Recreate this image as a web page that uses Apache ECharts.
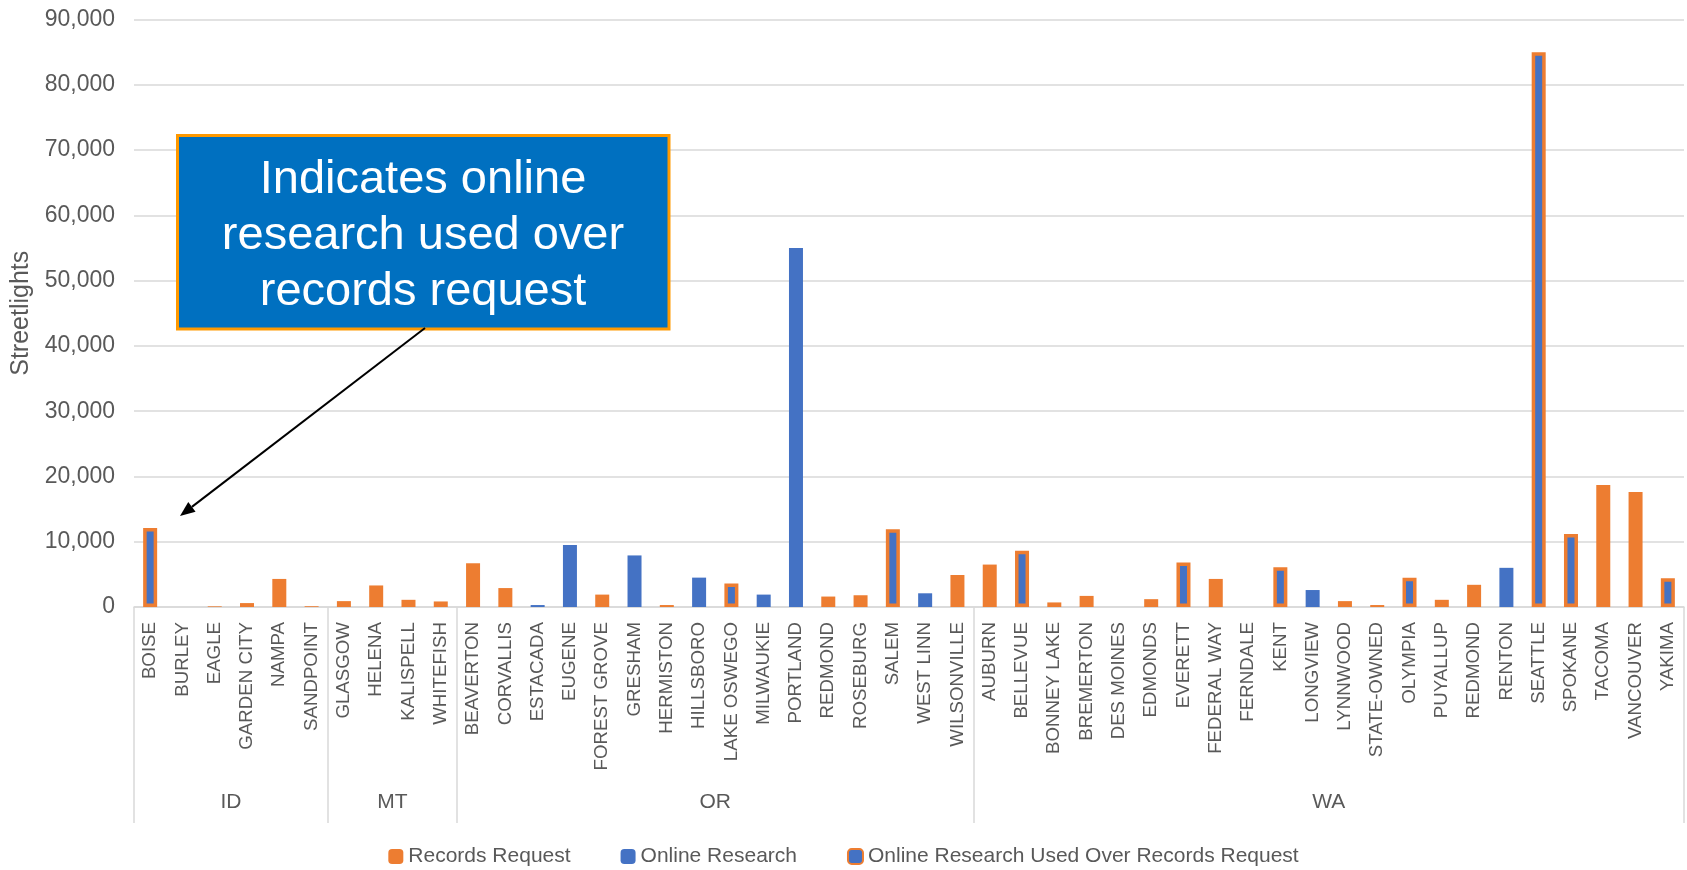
<!DOCTYPE html>
<html><head><meta charset="utf-8">
<script src="https://cdn.jsdelivr.net/npm/echarts@6/dist/echarts.min.js"></script>
<style>html,body{margin:0;padding:0;background:#fff}#c{width:1687px;height:870px}</style>
</head><body><div id="c"></div>
<script>
const cities = ['BOISE','BURLEY','EAGLE','GARDEN CITY','NAMPA','SANDPOINT',
 'GLASGOW','HELENA','KALISPELL','WHITEFISH',
 'BEAVERTON','CORVALLIS','ESTACADA','EUGENE','FOREST GROVE','GRESHAM','HERMISTON','HILLSBORO','LAKE OSWEGO','MILWAUKIE','PORTLAND','REDMOND','ROSEBURG','SALEM','WEST LINN','WILSONVILLE',
 'AUBURN','BELLEVUE','BONNEY LAKE','BREMERTON','DES MOINES','EDMONDS','EVERETT','FEDERAL WAY','FERNDALE','KENT','LONGVIEW','LYNNWOOD','STATE-OWNED','OLYMPIA','PUYALLUP','REDMOND','RENTON','SEATTLE','SPOKANE','TACOMA','VANCOUVER','YAKIMA'];
const states = ['ID','MT','OR','WA'];
const stateCounts = [6,4,16,22];
const _ = null;
const recordsRequest = [_,_,100,600,4300,120,
 900,3300,1100,850,
 6700,2900,_,_,1900,_,300,_,_,_,_,1600,1800,_,_,4900,
 6500,_,700,1700,_,1200,_,4300,_,_,_,900,300,_,1100,3400,_,_,_,18700,17600,_];
const onlineResearch = [_,_,_,_,_,_,
 _,_,_,_,
 _,_,300,9500,_,7900,_,4500,_,1900,55000,_,_,_,2100,_,
 _,_,_,_,_,_,_,_,_,_,2600,_,_,_,_,_,6000,_,_,_,_,_];
const onlineUsedOverRecords = [12100,_,_,_,_,_,
 _,_,_,_,
 _,_,_,_,_,_,_,_,3600,_,_,_,_,11900,_,_,
 _,8600,_,_,_,_,6800,_,_,6100,_,_,_,4500,_,_,_,85000,11200,_,_,4400];
const yTicks = [0,10000,20000,30000,40000,50000,60000,70000,80000,90000];

// half-slot axis for state grouping (2 slots per city, boundaryGap false)
const half = [];
const boundaries = new Set([0]);
const centers = {};
let acc = 0;
states.forEach((s,i)=>{ centers[acc + stateCounts[i]] = s; acc += stateCounts[i]*2; boundaries.add(acc); });
for (let k=0;k<=acc;k++) half.push(centers[k] || '');

const ORANGE='#ED7D31', BLUE='#4472C4';
const chart = echarts.init(document.getElementById('c'));
const fontMain = 'Liberation Sans, Arial, sans-serif';

// arrow geometry
const tail=[425,328], tip=[180,516];
const dx=tip[0]-tail[0], dy=tip[1]-tail[1], L=Math.hypot(dx,dy), ux=dx/L, uy=dy/L;
const hl=15, hw=6;
const bx=tip[0]-hl*ux, by=tip[1]-hl*uy;

chart.setOption({
  animation:false,
  grid:{left:134,right:3,top:19.5,bottom:263,containLabel:false},
  legend:{top:841,left:'center',itemWidth:15,itemHeight:15,itemGap:50,
    textStyle:{fontFamily:fontMain,fontSize:21,color:'#595959'},
    data:['Records Request','Online Research','Online Research Used Over Records Request']},
  xAxis:[
    {type:'category',data:cities,position:'bottom',
     axisLine:{lineStyle:{color:'#d9d9d9',width:1.5}},axisTick:{show:false},
     axisLabel:{rotate:90,interval:0,margin:15,fontFamily:fontMain,fontSize:18.7,color:'#595959'}},
    {type:'category',data:half,position:'bottom',boundaryGap:false,offset:0,
     axisLine:{show:false},
     axisTick:{show:true,length:216,interval:(i)=>boundaries.has(i),lineStyle:{color:'#d9d9d9',width:1.5}},
     axisLabel:{interval:0,margin:185,fontFamily:fontMain,fontSize:21,color:'#595959'}}
  ],
  yAxis:{type:'value',min:0,max:90000,interval:10000,
    name:'Streetlights',nameLocation:'middle',nameGap:98,nameRotate:90,
    nameTextStyle:{fontFamily:fontMain,fontSize:25,color:'#595959'},
    axisLine:{show:false},axisTick:{show:false},
    axisLabel:{margin:19,fontFamily:fontMain,fontSize:23,color:'#595959',
      formatter:v=>v.toLocaleString('en-US')},
    splitLine:{lineStyle:{color:'#d9d9d9',width:1.5}}},
  series:[
    {name:'Records Request',type:'bar',data:recordsRequest,barWidth:14,barGap:'-100%',itemStyle:{color:ORANGE}},
    {name:'Online Research',type:'bar',data:onlineResearch,barWidth:14,barGap:'-100%',itemStyle:{color:BLUE}},
    {name:'Online Research Used Over Records Request',type:'bar',data:onlineUsedOverRecords,barWidth:14,barGap:'-100%',
     itemStyle:{color:BLUE,borderColor:ORANGE,borderWidth:3.5}}
  ],
  graphic:[
    {type:'rect',shape:{x:177.5,y:135.5,width:491.5,height:193.5},style:{fill:'#0070C0',stroke:'#FF9900',lineWidth:3},z:100},
    {type:'text',x:423,y:236,z:101,style:{text:'Indicates online\nresearch used over\nrecords request',fill:'#fff',
      font:'47px Liberation Sans, Arial, sans-serif',align:'center',verticalAlign:'middle',lineHeight:56}},
    {type:'line',shape:{x1:tail[0],y1:tail[1],x2:bx,y2:by},style:{stroke:'#000',lineWidth:2},z:100},
    {type:'polygon',shape:{points:[[tip[0],tip[1]],[bx+hw*uy,by-hw*ux],[bx-hw*uy,by+hw*ux]]},style:{fill:'#000'},z:100}
  ]
});
</script></body></html>
